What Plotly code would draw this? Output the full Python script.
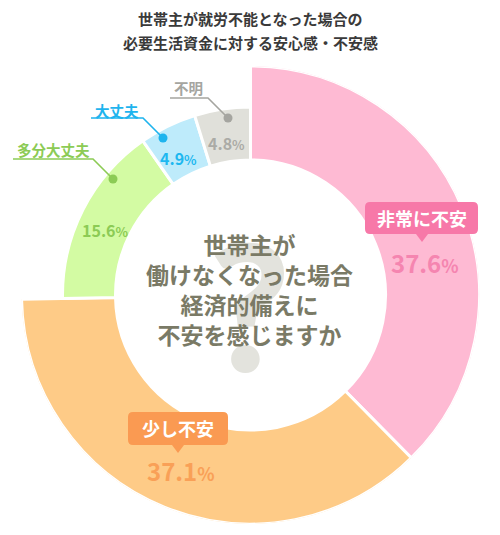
import plotly.graph_objects as go

W, H = 500, 535

# --- data ---
categories = ["非常に不安", "少し不安", "多分大丈夫", "大丈夫", "不明"]
shares = [37.6, 37.1, 15.6, 4.9, 4.8]  # %

title_lines = ["世帯主が就労不能となった場合の", "必要生活資金に対する安心感・不安感"]
center_lines = ["世帯主が", "働けなくなった場合", "経済的備えに", "不安を感じますか"]

# --- style ---
FONT = "Noto Sans CJK JP"
slice_colors = ["#FEBAD3", "#FECB87", "#D3FBA3", "#BEEBFB", "#E0E0DA"]
pct_colors = ["#F585B0", "#F9A057", "#8CCB55", "#1EB8F0", "#ABABA6"]
label_colors = ["#F778A8", "#FA9A52", "#8CCB55", "#1EB4EE", "#A5A5A0"]

# donut geometry in pixels
CX, CY = 250.5, 295
R_IN = 135
R_BIG, R_SMALL = 229, 188
outer_r = [R_BIG, R_BIG, R_SMALL, R_SMALL, R_SMALL]


def fx(x):
    return x / W


def fy(y):
    return 1 - y / H


# slice angles from the shares (clockwise from 12 o'clock)
widths = [s * 3.6 for s in shares]
thetas = []
acc = 0
for w in widths:
    thetas.append(acc + w / 2)
    acc += w

fig = go.Figure()
fig.add_trace(go.Barpolar(
    r=[r - R_IN for r in outer_r],
    base=[R_IN] * len(shares),
    theta=thetas,
    width=widths,
    marker=dict(color=slice_colors, line=dict(color="white", width=3)),
    hoverinfo="skip",
    showlegend=False,
))

annotations = []
shapes = []


def text(x, y, s, size, color, weight="bold", family=FONT):
    annotations.append(dict(
        x=fx(x), y=fy(y), xref="paper", yref="paper", text=s,
        showarrow=False, xanchor="center", yanchor="middle",
        font=dict(family=family, size=size, color=color, weight=weight),
    ))


def pct(v, small):
    return f"{v}<span style='font-size:{small}px'>%</span>"


# title
text(250, 19, title_lines[0], 15, "#3a3a3a")
text(250, 43, title_lines[1], 15, "#3a3a3a")

# big question mark + centre text
text(249, 304, "?", 175, "#E3E3DD", weight=900, family="Lato")
text(249, 289, "<br>".join(center_lines), 23, "#7A7A66")


def bubble(x0, y0, x1, y1, tip_x, tip_y, r=5, half=6):
    pts = [
        f"M{fx(x0 + r)},{fy(y0)}",
        f"L{fx(x1 - r)},{fy(y0)}",
        f"Q{fx(x1)},{fy(y0)} {fx(x1)},{fy(y0 + r)}",
        f"L{fx(x1)},{fy(y1 - r)}",
        f"Q{fx(x1)},{fy(y1)} {fx(x1 - r)},{fy(y1)}",
        f"L{fx(tip_x + half)},{fy(y1)}",
        f"L{fx(tip_x)},{fy(tip_y)}",
        f"L{fx(tip_x - half)},{fy(y1)}",
        f"L{fx(x0 + r)},{fy(y1)}",
        f"Q{fx(x0)},{fy(y1)} {fx(x0)},{fy(y1 - r)}",
        f"L{fx(x0)},{fy(y0 + r)}",
        f"Q{fx(x0)},{fy(y0)} {fx(x0 + r)},{fy(y0)}",
        "Z",
    ]
    return " ".join(pts)


def leader(x0, x1, y, dx, dy, color):
    shapes.append(dict(
        type="path", xref="paper", yref="paper", layer="above",
        path=f"M{fx(x0)},{fy(y)} L{fx(x1)},{fy(y)} L{fx(dx)},{fy(dy)}",
        line=dict(color=color, width=1.6),
    ))
    shapes.append(dict(
        type="circle", xref="paper", yref="paper", layer="above",
        x0=fx(dx - 4.5), x1=fx(dx + 4.5), y0=fy(dy + 4.5), y1=fy(dy - 4.5),
        fillcolor=color, line=dict(width=0),
    ))


# 非常に不安
shapes.append(dict(type="path", xref="paper", yref="paper", layer="above",
                   path=bubble(365, 202, 478, 234, 422, 242),
                   fillcolor=label_colors[0], line=dict(width=0)))
text(421.5, 218, categories[0], 18, "white")
text(425, 262, pct(shares[0], 18), 24, pct_colors[0])

# 少し不安
shapes.append(dict(type="path", xref="paper", yref="paper", layer="above",
                   path=bubble(128, 412, 228, 445, 178, 453),
                   fillcolor=label_colors[1], line=dict(width=0)))
text(178, 428.5, categories[1], 18, "white")
text(181, 470, pct(shares[1], 18), 24, pct_colors[1])

# 多分大丈夫
leader(13, 93, 159, 113, 179, label_colors[2])
text(53, 149, categories[2], 14.5, label_colors[2])
text(105, 230, pct(shares[2], 13), 16, pct_colors[2])

# 大丈夫
leader(91, 143, 118, 163, 138, label_colors[3])
text(117, 110, categories[3], 14.5, label_colors[3])
text(178, 158, pct(shares[3], 13), 16, pct_colors[3])

# 不明
leader(170, 208, 98, 228, 118, label_colors[4])
text(188, 88, categories[4], 14.5, label_colors[4])
text(226, 143, pct(shares[4], 13), 16, pct_colors[4])

fig.update_layout(
    width=W, height=H,
    margin=dict(l=0, r=0, t=0, b=0),
    paper_bgcolor="white",
    plot_bgcolor="white",
    showlegend=False,
    polar=dict(
        domain=dict(x=[fx(CX - R_BIG), fx(CX + R_BIG)],
                    y=[fy(CY + R_BIG), fy(CY - R_BIG)]),
        bgcolor="rgba(0,0,0,0)",
        radialaxis=dict(visible=False, range=[0, R_BIG]),
        angularaxis=dict(visible=False, direction="clockwise", rotation=90),
        barmode="overlay",
    ),
    annotations=annotations,
    shapes=shapes,
)

# drop the default page margin so the figure sits at the window's corner
fig.write_html("out.html", config={"displayModeBar": False},
               post_script="document.body.style.margin='0';")
